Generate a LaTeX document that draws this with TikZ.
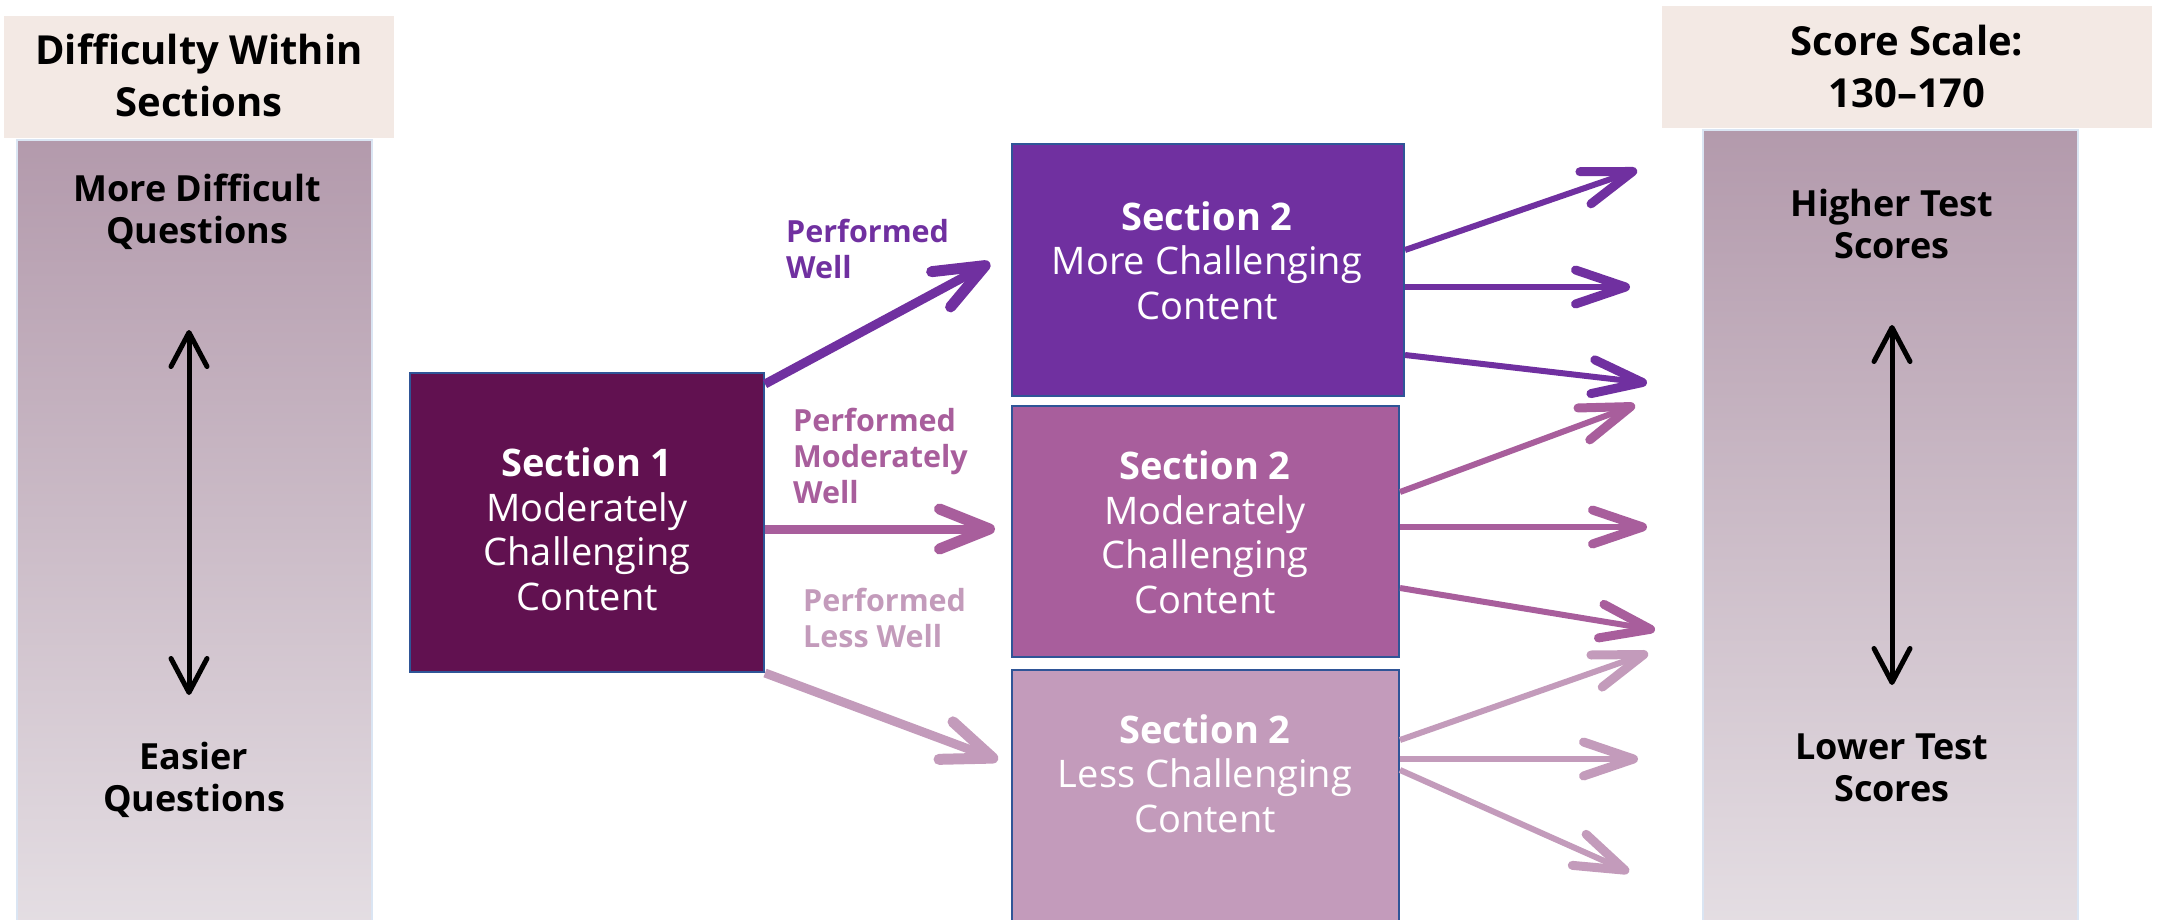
\documentclass[tikz,border=0pt]{standalone}
\usepackage{fontspec}
\setmainfont{Open Sans}
\usetikzlibrary{arrows.meta}
\definecolor{cA}{HTML}{7030A0}
\definecolor{cB}{HTML}{A85E9C}
\definecolor{cC}{HTML}{C39BBB}
\definecolor{sOne}{HTML}{611150}
\definecolor{bordc}{HTML}{2F5597}
\definecolor{beige}{HTML}{F3E9E4}
\definecolor{gTop}{HTML}{B39AAC}
\definecolor{gBot}{HTML}{E5DFE4}
\definecolor{colbord}{HTML}{DAE5F3}
\tikzset{
  hdr/.style={font=\bfseries\fontsize{40}{52}\selectfont, align=center, inner sep=0pt, anchor=base},
  coltxt/.style={font=\bfseries\fontsize{36}{42}\selectfont, align=center, inner sep=0pt, anchor=base},
  sbox/.style={draw=bordc, line width=2pt, inner sep=0pt},
  boxtxt/.style={font=\fontsize{38}{44.5}\selectfont, text=white, align=center, inner sep=0pt, anchor=base},
  perf/.style={font=\bfseries\fontsize{30.5}{36}\selectfont, align=left, inner sep=0pt, anchor=base west},
  bigarr/.style={line width=9pt, -{Straight Barb[length=50pt, width=40pt, line width=11pt, round]}},
  smallarr/.style={line width=6pt, -{Straight Barb[length=50pt, width=34pt, line width=9pt, round]}},
  dblarr/.style={line width=5pt, {Straight Barb[length=34pt, width=36pt, line width=5pt, round]}-{Straight Barb[length=34pt, width=36pt, line width=5pt, round]}}
}
\begin{document}
\begin{tikzpicture}[x=1pt, y=-1pt]
\useasboundingbox (0,0) rectangle (2159,920);
% side columns
\node[draw=colbord, line width=2pt, top color=gTop, bottom color=gBot, minimum width=355pt, minimum height=800pt, inner sep=0pt] (lcol) at (194.5,540) {};
\node[draw=colbord, line width=2pt, top color=gTop, bottom color=gBot, minimum width=375pt, minimum height=810pt, inner sep=0pt] (rcol) at (1890.5,535) {};
\node[fill=beige, minimum width=390pt, minimum height=122pt, inner sep=0pt] (lhdrbox) at (199,77) {};
\node[fill=beige, minimum width=490pt, minimum height=122pt, inner sep=0pt] (rhdrbox) at (1907,67) {};
\node[hdr] (lhdr) at (199,117) {Difficulty Within\\Sections};
\node[hdr] (rhdr) at (1907,108) {Score Scale:\\130–170};
\node[coltxt] (lhi) at (197,243) {More Difficult\\Questions};
\node[coltxt] (llo) at (194,811) {Easier\\Questions};
\node[coltxt] (rhi) at (1892,258) {Higher Test\\Scores};
\node[coltxt] (rlo) at (1892,801) {Lower Test\\Scores};
\coordinate (la1) at (189,330);
\coordinate (la2) at (189,695);
\coordinate (ra1) at (1892,325);
\coordinate (ra2) at (1892,685);
\draw[dblarr] (la1) -- (la2);
\draw[dblarr] (ra1) -- (ra2);
% boxes
\node[sbox, fill=sOne, minimum width=354pt, minimum height=299pt] (s1) at (587,522.5) {};
\node[sbox, fill=cA, minimum width=392pt, minimum height=252pt] (s2a) at (1208,270) {};
\node[sbox, fill=cB, minimum width=387pt, minimum height=251pt] (s2b) at (1205.5,531.5) {};
\node[sbox, fill=cC, minimum width=387pt, minimum height=260pt] (s2c) at (1205.5,800) {};
\node[boxtxt] (s1t) at (587,610) {\textbf{Section 1}\\Moderately\\Challenging\\Content};
\node[boxtxt] (s2at) at (1207,319) {\textbf{Section 2}\\More Challenging\\Content};
\node[boxtxt] (s2bt) at (1205,613) {\textbf{Section 2}\\Moderately\\Challenging\\Content};
\node[boxtxt] (s2ct) at (1205,832) {\textbf{Section 2}\\Less Challenging\\Content};
% labels
\node[perf, text=cA] (pw) at (786,278) {Performed\\Well};
\node[perf, text=cB] (pmw) at (793,503) {Performed\\Moderately\\Well};
\node[perf, text=cC] (plw) at (803,647) {Performed\\Less Well};
% arrows from section 1
\coordinate (e1) at (990,263);
\coordinate (e2) at (995,529);
\coordinate (e3) at (998,760);
\draw[bigarr, cA] ([yshift=-12pt]s1.north east) -- (e1);
\draw[bigarr, cB] ([yshift=-6.5pt]s1.east) -- (e2);
\draw[bigarr, cC] (s1.south east) -- (e3);
% arrows from section 2 boxes
\coordinate (ta1) at (1637,170);
\coordinate (ta2) at (1630,287);
\coordinate (ta3) at (1647,383);
\coordinate (tb1) at (1635,405);
\coordinate (tb2) at (1647,527);
\coordinate (tb3) at (1655,630);
\coordinate (tc1) at (1648,653);
\coordinate (tc2) at (1638,759);
\coordinate (tc3) at (1629,872);
\draw[smallarr, cA] ([yshift=20pt]s2a.east) -- (ta1);
\draw[smallarr, cA] ([yshift=-17pt]s2a.east) -- (ta2);
\draw[smallarr, cA] ([yshift=-85pt]s2a.east) -- (ta3);
\draw[smallarr, cB] ([yshift=39.5pt]s2b.east) -- (tb1);
\draw[smallarr, cB] ([yshift=4.5pt]s2b.east) -- (tb2);
\draw[smallarr, cB] ([yshift=-56.5pt]s2b.east) -- (tb3);
\draw[smallarr, cC] ([yshift=60pt]s2c.east) -- (tc1);
\draw[smallarr, cC] ([yshift=41pt]s2c.east) -- (tc2);
\draw[smallarr, cC] ([yshift=30pt]s2c.east) -- (tc3);
\end{tikzpicture}
\end{document}
